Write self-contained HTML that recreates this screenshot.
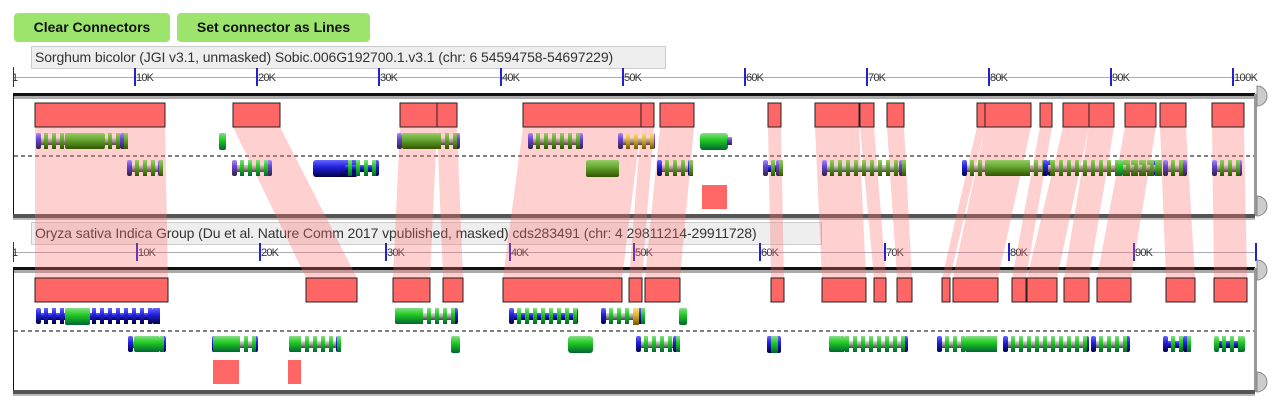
<!DOCTYPE html>
<html><head><meta charset="utf-8"><style>
body{margin:0;background:#fff;width:1288px;height:404px;overflow:hidden;font-family:"Liberation Sans",sans-serif}
.btn{position:absolute;top:13px;height:29px;background:#9de46d;border-radius:4px;font-weight:bold;font-size:14px;line-height:29px;text-align:center;color:#111}
.lbl{position:absolute;height:21px;background:#eee;border:1px solid #ccc;font-size:14px;line-height:21px;padding-left:3px;color:#333;z-index:0;white-space:nowrap;letter-spacing:-0.1px}
svg{position:absolute;left:0;top:0;z-index:1}
</style></head><body>
<div class="btn" style="left:14px;width:156px">Clear Connectors</div>
<div class="btn" style="left:177px;width:193px">Set connector as Lines</div>
<div class="lbl" style="left:31px;top:46px;width:630px">Sorghum bicolor (JGI v3.1, unmasked) Sobic.006G192700.1.v3.1 (chr: 6 54594758-54697229)</div>
<div class="lbl" style="left:31px;top:222px;width:786px">Oryza sativa Indica Group (Du et al. Nature Comm 2017 vpublished, masked) cds283491 (chr: 4 29811214-29911728)</div>
<svg id="s" width="1288" height="404" font-family="Liberation Sans, sans-serif" font-size="11">
<defs>
<linearGradient id="gg" x1="0" y1="0" x2="0" y2="1"><stop offset="0" stop-color="#8d8"/><stop offset=".4" stop-color="#2c2"/><stop offset="1" stop-color="#063"/></linearGradient>
<linearGradient id="go" x1="0" y1="0" x2="0" y2="1"><stop offset="0" stop-color="#9c6"/><stop offset=".4" stop-color="#6a3"/><stop offset="1" stop-color="#350"/></linearGradient>
<linearGradient id="gb" x1="0" y1="0" x2="0" y2="1"><stop offset="0" stop-color="#66f"/><stop offset=".4" stop-color="#22d"/><stop offset="1" stop-color="#004"/></linearGradient>
<linearGradient id="gp" x1="0" y1="0" x2="0" y2="1"><stop offset="0" stop-color="#a8f"/><stop offset=".4" stop-color="#64c"/><stop offset="1" stop-color="#324"/></linearGradient>
<linearGradient id="gy" x1="0" y1="0" x2="0" y2="1"><stop offset="0" stop-color="#fd8"/><stop offset=".4" stop-color="#db3"/><stop offset="1" stop-color="#750"/></linearGradient>
<linearGradient id="gl" x1="0" y1="0" x2="0" y2="1"><stop offset="0" stop-color="#ddd"/><stop offset=".5" stop-color="#999"/><stop offset="1" stop-color="#444"/></linearGradient>
<linearGradient id="gr" x1="0" y1="0" x2="0" y2="1"><stop offset="0" stop-color="#dcc"/><stop offset=".5" stop-color="#a88"/><stop offset="1" stop-color="#544"/></linearGradient>
</defs>
<g id="g"></g>
</svg>
<script>
const g=document.getElementById('g');let h='';
function R(x,y,w,hh,f,e){h+=`<rect x="${x}" y="${y}" width="${w}" height="${hh}" fill="${f}" ${e||''}/>`;}
function panel(top,bot,rulerY,ticks,labels){
 R(13,rulerY-10,1,20,'#22c');
 R(14,rulerY,1242,1,'#aab');
 ticks.forEach((t,i)=>{R(t,rulerY-9,2,18,'#22c');h+=`<text x="${t+2}" y="${rulerY+4}" fill="#333" textLength="${labels[i].length*6}">${labels[i]}</text>`;});
 R(13,top-1,1242,3,'#111');R(13,top+2,1242,3,'#aaa');
 R(13,top,1,bot-top,'#111');
 R(1254,top,3,bot-top,'#999');
 R(13,bot-2,1242,4,'#555');R(13,bot+2,1242,2,'#bbb');
 h+=`<path d="M1257 ${top-8} a10 10 0 0 1 0 20z" fill="#ccc" stroke="#888"/>`;
 h+=`<path d="M1257 ${bot-20} a10 10 0 0 1 0 20z" fill="#ccc" stroke="#888"/>`;
}
panel(94,216,77,[134,256,378,500,622,744,866,988,1110,1232],['10K','20K','30K','40K','50K','60K','70K','80K','90K','100K']);
panel(268,392,252,[136,259,385,509,633,759,884,1008,1133,1255],['10K','20K','30K','40K','50K','60K','70K','80K','90K','']);
h+=`<text x="12" y="81" fill="#333">1</text><text x="12" y="256" fill="#333">1</text>`;
h+=`<line x1="14" y1="156" x2="1254" y2="156" stroke="#000" stroke-dasharray="4,3"/><line x1="14" y1="331" x2="1254" y2="331" stroke="#000" stroke-dasharray="4,3"/>`;
const A=[[35,165],[233,280],[400,437],[437,457],[523,641],[641,654],[660,694],[768,781],[815,859],[860,874],[887,904],[977,985],[985,1031],[1040,1052],[1063,1089],[1089,1114],[1125,1156],[1160,1186],[1212,1244]];
const B=[[35,168],[306,357],[393,430],[443,463],[503,622],[629,642],[645,680],[771,784],[822,866],[874,886],[897,912],[942,950],[953,998],[1012,1026],[1027,1057],[1064,1089],[1097,1131],[1166,1195],[1214,1247]];
A.forEach((a,i)=>{const b=B[i];h+=`<polygon points="${a[0]},127 ${a[1]},127 ${b[1]},278 ${b[0]},278" fill="rgba(255,110,110,0.32)"/>`;});
A.forEach(a=>R(a[0],103,a[1]-a[0],24,'#ff6666','stroke="#222" stroke-width="1"'));
B.forEach(a=>R(a[0],278,a[1]-a[0],24,'#ff6666','stroke="#222" stroke-width="1"'));
R(702,185,25,24,'#ff6666');R(213,360,26,24,'#ff6666');R(288,360,13,24,'#ff6666');
function gene(x1,x2,cy,line,body,ends,big){
 R(x1,cy-3,x2-x1,7,line);
 R(x1,cy-8,5,16,ends,'rx="2"');R(x2-5,cy-8,5,16,ends,'rx="2"');
 const w=x2-x1;
 if(big)R(big[0],cy-8,big[1]-big[0],16,body,'rx="2"');
 const n=Math.max(2,w/8);
 for(let k=1;k<n;k++){const xx=x1+k*w/n;R(xx,cy-8,4,16,body);}
}
gene(36,125,141,'url(#gr)','url(#go)','url(#gp)',[65,105]);
R(219,133,7,17,'url(#gg)','rx="2"');
gene(397,460,141,'url(#gr)','url(#go)','url(#gp)',[402,440]);
gene(528,583,141,'url(#gr)','url(#go)','url(#gp)');
gene(618,655,141,'url(#gr)','url(#gy)','url(#gp)');
R(700,133,28,17,'url(#gg)','rx="3"');R(727,137,5,8,'url(#gp)');
gene(127,163,168,'url(#gr)','url(#go)','url(#gp)');
gene(232,272,168,'url(#gr)','url(#gg)','url(#gp)');
R(313,160,45,17,'url(#gb)','rx="3"');gene(340,379,168,'url(#gb)','url(#gg)','url(#gb)');
R(586,160,33,17,'url(#go)','rx="2"');
gene(657,693,168,'url(#gr)','url(#go)','url(#gb)');
gene(763,781,168,'url(#gb)','url(#go)','url(#gp)');
gene(822,904,168,'url(#gl)','url(#go)','url(#gp)');
gene(962,1053,168,'url(#gr)','url(#go)','url(#gb)',[985,1030]);
gene(1043,1159,168,'url(#gr)','url(#go)','url(#gb)');
gene(1118,1160,168,'url(#gr)','url(#go)','url(#gg)');
gene(1163,1187,168,'url(#gr)','url(#go)','url(#gp)');
gene(1212,1242,168,'url(#gr)','url(#go)','url(#gp)');
gene(36,157,316,'url(#gb)','url(#gb)','url(#gb)',[65,90]);
R(65,308,25,17,'url(#gg)','rx="2"');
gene(395,458,316,'url(#gl)','url(#gg)','url(#gb)',[395,420]);
gene(509,578,316,'url(#gb)','url(#gg)','url(#gb)');
gene(601,643,316,'url(#gl)','url(#gg)','url(#gb)');R(633,308,6,17,'url(#gy)');
R(679,308,8,17,'url(#gg)','rx="2"');
gene(128,166,344,'url(#gg)','url(#gg)','url(#gb)',[134,160]);
gene(212,258,344,'url(#gl)','url(#gg)','url(#gb)',[213,239]);
gene(289,341,344,'url(#gl)','url(#gg)','url(#gb)',[289,300]);
R(451,336,9,17,'url(#gg)','rx="2"');
R(568,336,25,17,'url(#gg)','rx="3"');
gene(636,678,344,'url(#gl)','url(#gg)','url(#gb)');
R(767,336,14,17,'url(#gb)','rx="2"');R(771,336,7,17,'url(#gg)');
gene(829,908,344,'url(#gl)','url(#gg)','url(#gb)',[829,845]);
gene(937,996,344,'url(#gl)','url(#gg)','url(#gb)',[965,995]);
gene(1003,1089,344,'url(#gl)','url(#gg)','url(#gb)');
gene(1091,1130,344,'url(#gl)','url(#gg)','url(#gb)');
gene(1163,1188,344,'url(#gb)','url(#gg)','url(#gb)');
gene(1214,1245,344,'url(#gb)','url(#gg)','url(#gg)');
g.innerHTML=h;
</script>
</body></html>
